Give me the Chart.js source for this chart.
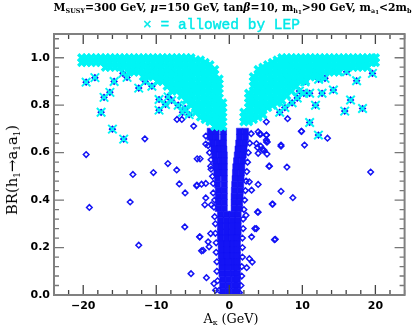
<!DOCTYPE html>
<html><head><meta charset="utf-8">
<script src="https://cdn.jsdelivr.net/npm/chart.js@4.4.1/dist/chart.umd.min.js"></script>
<style>
html,body{margin:0;padding:0;background:#fff;}
#wrap{position:relative;width:413px;height:332px;overflow:hidden;background:#fff;}
canvas{position:absolute;left:0;top:0;}
.lbl{position:absolute;white-space:nowrap;color:#000;display:inline-block;transform:translate(-50%,-50%);}
#t1{left:232.5px;top:8px;font:bold 12px "DejaVu Serif";line-height:13px;}
#t2{left:221.5px;top:24.5px;font:15px "Liberation Mono";color:#00e8e8;line-height:15px;-webkit-text-stroke:0.4px #00e8e8;}
#xt{left:231px;top:320px;font:13px "DejaVu Serif";line-height:14px;}
#yt{left:12.7px;top:170px;transform:translate(-50%,-50%) rotate(-90deg);font:13px "DejaVu Serif";line-height:14px;}
.s{font-size:0.6em;position:relative;top:0.3em;}
.ss{font-size:0.85em;position:relative;top:0.2em;}
.g{font-style:italic;}
</style></head>
<body>
<div id="wrap">
<canvas id="c" width="413" height="332"></canvas>
<div class="lbl" id="t1">M<span class="s">SUSY</span>=300 GeV, <span class="g">μ</span>=150 GeV, tan<span class="g">β</span>=10, m<span class="s">h<span class="ss">1</span></span>&gt;90 GeV, m<span class="s">a<span class="ss">1</span></span>&lt;2m<span class="s">b</span></div>
<div class="lbl" id="t2">× = allowed by LEP</div>
<div class="lbl" id="xt">A<span class="s">κ</span> (GeV)</div>
<div class="lbl" id="yt">BR(h<span class="s">1</span>→a<span class="s">1</span>a<span class="s">1</span>)</div>
</div>
<script>
// ---- data ----
const xMajor=[-20,-10,0,10,20];
const xMinor=[-24,-22,-18,-16,-14,-12,-8,-6,-4,-2,2,4,6,8,12,14,16,18,22,24];
const yMajor=[0,0.2,0.4,0.6,0.8,1.0];
const yMinor=[0.04,0.08,0.12,0.16,0.24,0.28,0.32,0.36,0.44,0.48,0.52,0.56,0.64,0.68,0.72,0.76,0.84,0.88,0.92,0.96,1.04,1.08];

// dense LEP-allowed band, left lobe: [A_kappa, [BR values]]
const bandLeft=[
[-20.2,[1,.98]],[-19.55,[1,.98]],[-18.9,[1,.98]],[-18.25,[1,.98]],[-17.6,[1,.98]],
[-16.95,[1,.98,.96]],[-16.3,[1,.98,.96]],[-15.65,[1,.98,.96]],[-15.0,[1,.98,.96]],[-14.35,[1,.98,.96]],
[-13.7,[1,.98,.96,.94]],[-13.05,[1,.98,.96,.94]],[-12.4,[1,.98,.96,.94]],
[-11.75,[1,.98,.96,.94,.92]],[-11.1,[1,.98,.96,.94,.92]],[-10.45,[1,.98,.96,.94,.92]],
[-9.8,[1,.98,.96,.94,.92,.9]],[-9.15,[1,.98,.96,.94,.92,.9]],
[-8.5,[1,.98,.96,.94,.92,.9,.88]],
[-7.85,[1,.98,.96,.94,.92,.9,.88,.86]],[-7.2,[1,.98,.96,.94,.92,.9,.88,.86]],
[-6.55,[1,.98,.96,.94,.92,.9,.88,.86,.84]],
[-5.9,[1,.98,.96,.94,.92,.9,.88,.86,.84,.82]],
[-5.25,[1,.98,.96,.94,.92,.9,.88,.86,.84,.82,.8]],
[-4.6,[.99,.97,.95,.93,.91,.89,.87,.85,.83,.81,.79,.77]],
[-3.95,[.99,.97,.95,.93,.91,.89,.87,.85,.83,.81,.79,.77,.75]],
[-3.3,[.98,.96,.94,.92,.9,.88,.86,.84,.82,.8,.78,.76,.74]],
[-2.65,[.97,.95,.93,.91,.89,.87,.85,.83,.81,.79,.77,.75,.73]],
[-2.0,[.95,.93,.91,.89,.87,.85,.83,.81,.79,.77,.75,.73,.71]],
[-1.4,[.91,.89,.87,.85,.83,.81,.79,.77,.75,.73,.71]],
[-0.9,[.81,.79,.77,.75,.73,.71]]
];
// dense LEP-allowed band, right lobe
const bandRight=[
[2.0,[.77,.75,.73]],
[2.65,[.85,.83,.81,.79,.77,.75,.73]],
[3.3,[.92,.9,.88,.86,.84,.82,.8,.78,.76,.74]],
[3.95,[.95,.93,.91,.89,.87,.85,.83,.81,.79,.77,.75]],
[4.6,[.96,.94,.92,.9,.88,.86,.84,.82,.8,.78,.76]],
[5.25,[.97,.95,.93,.91,.89,.87,.85,.83,.81,.79]],
[5.9,[.98,.96,.94,.92,.9,.88,.86,.84,.82,.8]],
[6.55,[.99,.97,.95,.93,.91,.89,.87,.85,.83,.81]],
[7.2,[1,.98,.96,.94,.92,.9,.88,.86,.84,.82]],
[7.85,[1,.98,.96,.94,.92,.9,.88,.86,.84]],
[8.5,[1,.98,.96,.94,.92,.9,.88,.86]],
[9.15,[1,.98,.96,.94,.92,.9,.88]],
[9.8,[1,.98,.96,.94,.92,.9]],[10.45,[1,.98,.96,.94,.92,.9]],
[11.1,[1,.98,.96,.94,.92]],[11.75,[1,.98,.96,.94,.92]],[12.4,[1,.98,.96,.94,.92]],
[13.05,[1,.98,.96,.94]],[13.7,[1,.98,.96,.94]],[14.35,[1,.98,.96,.94]],[15.0,[1,.98,.96,.94]],
[15.65,[1,.98,.96]],[16.3,[1,.98,.96]],[16.95,[1,.98,.96]],[17.6,[1,.98,.96]],[18.25,[1,.98,.96]],[18.9,[1,.98,.96]],
[19.55,[1,.98]],[20.0,[1,.98]]
];
// isolated LEP-allowed points [A_kappa, BR]
const cyanIsolated=[
[-19.6,.897],[-18.4,.916],[-15.77,.90],[-14.56,.934],[-14.0,.917],[-16.35,.854],[-17.15,.833],[-12.4,.872],
[-17.55,.77],[-16.0,.699],[-14.46,.657],[-9.62,.824],[-8.73,.803],[-9.62,.779],[-8.37,.835],[-6.05,.786],
[-7.9,.82],[-7.0,.80],[-6.4,.77],[-5.5,.76],[-10.6,.88],[-11.5,.9],
[19.6,.934],[17.43,.903],[16.6,.822],[15.8,.775],[18.24,.786],[11.8,.80],[14.25,.864],[12.7,.85],
[11.0,.85],[10.2,.85],[11.0,.727],[12.2,.674],[16.05,.941],[13.1,.913],[12.23,.909],[10.35,.899],
[6.9,.77],[7.6,.79],[8.6,.81],[9.3,.83],[9.6,.86]
];
// excluded points (blue diamonds) [A_kappa, BR]
const blueScatter=[
[-19.6,.592],[-19.16,.369],[-11.56,.658],[-13.2,.508],[-13.57,.392],[-12.4,.21],[-10.39,.516],[-8.41,.554],
[-7.2,.527],[-6.85,.468],[-6.05,.43],[-6.09,.287],[-4.07,.245],[-5.24,.09],[-4.48,.46],[-4.4,.574],[-4.0,.574],
[-3.8,.186],[-7.16,.74],[-6.5,.74],
[19.35,.518],[6.3,.235],[8.7,.41],[7.08,.437],[5.87,.383],[7.89,.539],[5.5,.543],[10.3,.632],[7.08,.632],
[13.44,.661],[9.86,.69],[3.95,.466],[3.95,.349],[3.7,.28],[5.1,.645],[4.76,.61],[4.3,.627],[3.95,.597],
[5.1,.674],[4.3,.678],[7.98,.743],[9.9,.69],
[-4.43,.463],[-3.8,.467],[-3.22,.47],[-3.22,.409],[-3.35,.38],[-2.46,.38],[-2.55,.259],[-4.03,.245],
[-2.9,.224],[-2.77,.203],[-3.58,.188],[-3.13,.073],[-2.1,.048],[-1.88,.02],[-4.88,.712],[-3.22,.636],[-2.55,.543],
[3.95,.688],[5.07,.674],[5.2,.645],[3.72,.638],[4.62,.61],[5.43,.543],[2.74,.477],[3.05,.442],[5.96,.383],
[3.86,.35],[2.29,.336],[3.5,.28],[6.18,.233],[3.05,.245],[2.74,.153],[3.14,.139],[2.38,.115],[5.07,.73],
[4.17,.678],[5.07,.653],[3.86,.622],[4.53,.614],[5.16,.594],[7.08,.627]
];
// ragged edge of the dense excluded core
const coreEdge=[
[-3.2,.67],[-2.9,.63],[-2.7,.6],[-2.5,.57],[-2.5,.53],[-2.3,.5],[-2.2,.47],[-2.2,.43],[-2.0,.4],[-2.1,.37],
[-2.0,.33],[-1.9,.3],[-1.9,.26],[-1.8,.22],[-1.8,.18],[-1.7,.14],[-1.7,.1],[-1.6,.06],[-1.4,.02],
[3.0,.68],[2.8,.64],[2.6,.6],[2.5,.56],[2.4,.52],[2.3,.48],[2.2,.44],[2.1,.4],[2.0,.36],[1.9,.32],
[1.9,.28],[1.8,.24],[1.8,.2],[1.8,.16],[1.7,.12],[1.7,.08],[1.6,.04],[1.4,.01]
];
// dense excluded core: [BR, [A_kappa values]]
const coreRows=[
[.69,[-2.6,-1.8,-0.8,1.4,2.2]],[.665,[-2.6,-1.8,-0.8,1.4,2.2]],[.64,[-2.3,-1.5,-0.8,1.3,2.1]],
[.615,[-2.1,-1.3,-0.75,1.2,2.0]],[.59,[-2.0,-1.2,-0.7,1.1,1.9]],[.565,[-1.9,-1.1,-0.7,1.0,1.8]],
[.54,[-1.8,-1.0,-0.7,0.9,1.7]],[.515,[-1.7,-0.9,-0.7,0.85,1.65]],[.49,[-1.6,-0.7,0.8,1.6]],
[.465,[-1.6,-0.7,0.75,1.55]],[.44,[-1.5,-0.7,0.7,1.5]],[.415,[-1.5,-0.7,0.67,1.47]],
[.39,[-1.5,-0.7,0.67,1.4]],[.365,[-1.5,-0.7,0.67,1.4]],
[.34,[-1.2,-0.4,0.4,1.2]],[.315,[-1.2,-0.4,0.4,1.2]],[.29,[-1.2,-0.4,0.4,1.2]],[.265,[-1.2,-0.4,0.4,1.2]],
[.24,[-1.2,-0.4,0.4,1.1]],[.215,[-1.1,-0.3,0.5,1.1]],[.19,[-1.1,-0.3,0.5,1.1]],[.165,[-1.1,-0.3,0.5,1.1]],
[.14,[-1.0,-0.2,0.6,1.1]],[.115,[-1.0,-0.2,0.6,1.1]],[.09,[-1.0,-0.2,0.6,1.1]],
[.065,[-0.9,-0.1,0.7,1.1]],[.04,[-0.9,-0.1,0.7,1.1]],[.015,[-0.9,-0.1,0.7,1.1]]
];

// ---- fit overlay text widths to the reference ----
function fit(id,target){
  const el=document.getElementById(id);
  const fs=parseFloat(getComputedStyle(el).fontSize);
  const w=el.offsetWidth;
  if(w>0) el.style.fontSize=(fs*target/w).toFixed(2)+'px';
}
fit('t1',358);fit('t2',157);fit('xt',55);fit('yt',90);

// ---- build ----
const colsToPts=cols=>cols.flatMap(([a,brs])=>brs.map(b=>({x:a,y:b})));
const rowsToPts=rows=>rows.flatMap(([b,as])=>as.map(a=>({x:a,y:b})));
const pairsToPts=ps=>ps.map(([a,b])=>({x:a,y:b}));

const BLUE='rgb(20,20,245)';
const CYAN='rgb(0,245,245)';

const frameTicks={
  id:'frameTicks',
  afterDraw(chart){
    const {ctx,chartArea:a,scales:{x,y}}=chart;
    ctx.save();
    ctx.strokeStyle='#444';ctx.lineWidth=1.3;
    const tick=(px,len,vertical)=>{
      ctx.beginPath();
      if(vertical){ctx.moveTo(px,a.bottom);ctx.lineTo(px,a.bottom-len);ctx.moveTo(px,a.top);ctx.lineTo(px,a.top+len);}
      else{ctx.moveTo(a.left,px);ctx.lineTo(a.left+len,px);ctx.moveTo(a.right,px);ctx.lineTo(a.right-len,px);}
      ctx.stroke();
    };
    xMajor.forEach(v=>tick(x.getPixelForValue(v),10,true));
    xMinor.forEach(v=>tick(x.getPixelForValue(v),5,true));
    ctx.strokeStyle='#777';
    yMajor.forEach(v=>tick(y.getPixelForValue(v),10,false));
    yMinor.forEach(v=>tick(y.getPixelForValue(v),5,false));
    ctx.strokeStyle='#808080';ctx.lineWidth=2;
    ctx.strokeRect(a.left,a.top,a.right-a.left,a.bottom-a.top);
    ctx.restore();
  }
};

new Chart(document.getElementById('c'),{
  type:'scatter',
  data:{datasets:[
    {label:'allowed',data:pairsToPts(cyanIsolated),pointStyle:'crossRot',pointRadius:6,borderColor:CYAN,borderWidth:2,order:0},
    {label:'allowed band',data:colsToPts(bandLeft).concat(colsToPts(bandRight)),pointStyle:'crossRot',pointRadius:5,borderColor:CYAN,borderWidth:3.4,order:1},
    {label:'excluded',data:pairsToPts(blueScatter.concat(coreEdge,cyanIsolated)),pointStyle:'rectRot',pointRadius:2.8,borderColor:BLUE,backgroundColor:'rgba(255,255,255,0)',borderWidth:1.5,order:2},
    {label:'excluded core',data:rowsToPts(coreRows),pointStyle:'rect',pointRadius:4.4,borderColor:BLUE,backgroundColor:BLUE,borderWidth:0.5,order:3}
  ]},
  options:{
    responsive:false,animation:false,devicePixelRatio:1,
    layout:{padding:{top:34,right:4,left:0,bottom:0}},
    plugins:{legend:{display:false},tooltip:{enabled:false}},
    elements:{point:{hoverRadius:0}},
    scales:{
      x:{type:'linear',min:-24,max:24,
        afterFit:s=>{s.height=37;},
        afterBuildTicks:s=>{s.ticks=xMajor.map(v=>({value:v}));},
        grid:{display:false,drawTicks:false},border:{display:false},
        ticks:{padding:5,color:'#000',font:{family:'DejaVu Sans',size:11,weight:'bold'},
          callback:v=>(v<0?'\u2212':'')+Math.abs(v)}},
      y:{type:'linear',min:0,max:1.1,
        afterFit:s=>{s.width=54;},
        afterBuildTicks:s=>{s.ticks=yMajor.map(v=>({value:v}));},
        grid:{display:false,drawTicks:false},border:{display:false},
        ticks:{padding:4,color:'#000',font:{family:'DejaVu Sans',size:11,weight:'bold'},
          callback:v=>Number(v).toFixed(1)}}
    }
  },
  plugins:[frameTicks]
});
</script>
</body></html>
